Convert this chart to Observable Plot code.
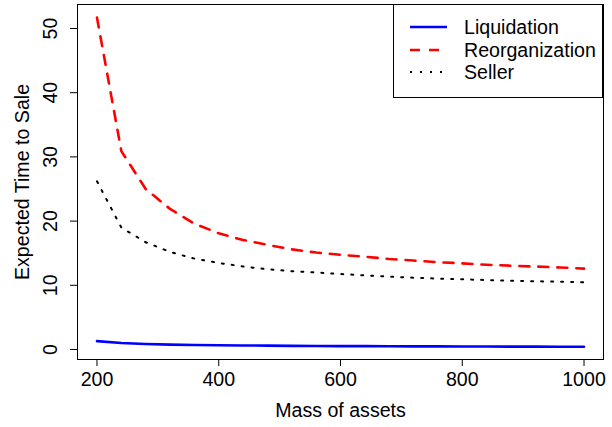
<!DOCTYPE html>
<html><head><meta charset="utf-8">
<script src="https://cdn.jsdelivr.net/npm/d3@7"></script>
<script src="https://cdn.jsdelivr.net/npm/@observablehq/plot@0.6"></script>
<style>body{margin:0;background:#fff;}</style>
</head><body><div id="chart"></div>
<script>
const mass = [200,240,280,320,360,400,440,480,520,560,600,640,680,720,760,800,840,880,920,960,1000];
const liquidation = [1.30,1.00,0.85,0.76,0.70,0.66,0.63,0.60,0.57,0.55,0.53,0.52,0.50,0.49,0.48,0.47,0.46,0.45,0.44,0.43,0.42];
const reorganization = [51.7,30.9,25.0,21.9,19.6,18.1,17.05,16.3,15.6,15.1,14.75,14.45,14.1,13.85,13.6,13.42,13.2,13.05,12.92,12.78,12.6];
const seller = [26.2,19.0,16.7,15.2,14.15,13.48,12.93,12.5,12.2,12.0,11.76,11.55,11.35,11.18,11.04,10.93,10.82,10.72,10.63,10.55,10.47];
const seriesNames = ["Liquidation","Reorganization","Seller"];
const seriesColors = ["#0000ff","#ff0000","#000000"];
const xTicks = [200,400,600,800,1000];
const yTicks = [0,10,20,30,40,50];
const xTitle = "Mass of assets";
const yTitle = "Expected Time to Sale";

const FS = 19.6;
const seriesValues = [liquidation, reorganization, seller];
const seriesStyle = [
  {strokeWidth: 2.6, strokeDasharray: null},
  {strokeWidth: 2.6, strokeDasharray: "10,9"},
  {strokeWidth: 2, strokeDasharray: "2,8"}
];
const tables = seriesNames.map((s, i) => mass.map((m, j) => ({mass: m, value: seriesValues[i][j], series: s})));

const chart = Plot.plot({
  width: 612, height: 427,
  marginLeft: 77, marginRight: 9, marginTop: 4, marginBottom: 68,
  x: {domain: [168, 1032]},
  y: {domain: [-1.56, 53.74]},
  style: {fontFamily: "'Liberation Sans', Arial, sans-serif", fontSize: FS + "px", color: "black", background: "white"},
  marks: [
    Plot.axisX({ticks: xTicks, tickSize: 7, tickPadding: 6, fontSize: FS, label: null, tickFormat: d => String(d)}),
    Plot.axisY({ticks: yTicks, tickSize: 7, tickFormat: () => "", label: null}),
    Plot.text(yTicks, {y: d => d, text: d => String(d), frameAnchor: "left", dx: -27, rotate: -90, fontSize: FS, lineAnchor: "middle", textAnchor: "middle"}),
    Plot.text([xTitle], {text: d => d, frameAnchor: "bottom", dy: 51, fontSize: FS, lineAnchor: "middle", textAnchor: "middle"}),
    Plot.text([yTitle], {text: d => d, frameAnchor: "left", dx: -55, dy: 0, rotate: -90, fontSize: FS, lineAnchor: "middle", textAnchor: "middle"}),
    ...tables.map((t, i) => Plot.line(t, {x: "mass", y: "value", stroke: seriesColors[i], strokeWidth: seriesStyle[i].strokeWidth, strokeDasharray: seriesStyle[i].strokeDasharray})),
    Plot.frame({stroke: "black", strokeWidth: 1})
  ]
});
document.getElementById("chart").appendChild(chart);

// Legend
const svg = d3.select(chart);
const g = svg.append("g").attr("text-anchor", "start");
g.append("rect").attr("x", 393.5).attr("y", 4.5).attr("width", 209).attr("height", 93)
  .attr("fill", "white").attr("stroke", "black");
const legY = [27, 50, 72];
seriesNames.forEach((s, i) => {
  g.append("line").attr("x1", 410).attr("x2", 447).attr("y1", legY[i]).attr("y2", legY[i])
    .attr("stroke", seriesColors[i]).attr("stroke-width", seriesStyle[i].strokeWidth)
    .attr("stroke-dasharray", seriesStyle[i].strokeDasharray);
  g.append("text").attr("x", 464).attr("y", legY[i]).attr("dy", "0.35em")
    .attr("text-anchor", "start").attr("font-size", FS).attr("fill", "black").text(s);
});
</script>
</body></html>
